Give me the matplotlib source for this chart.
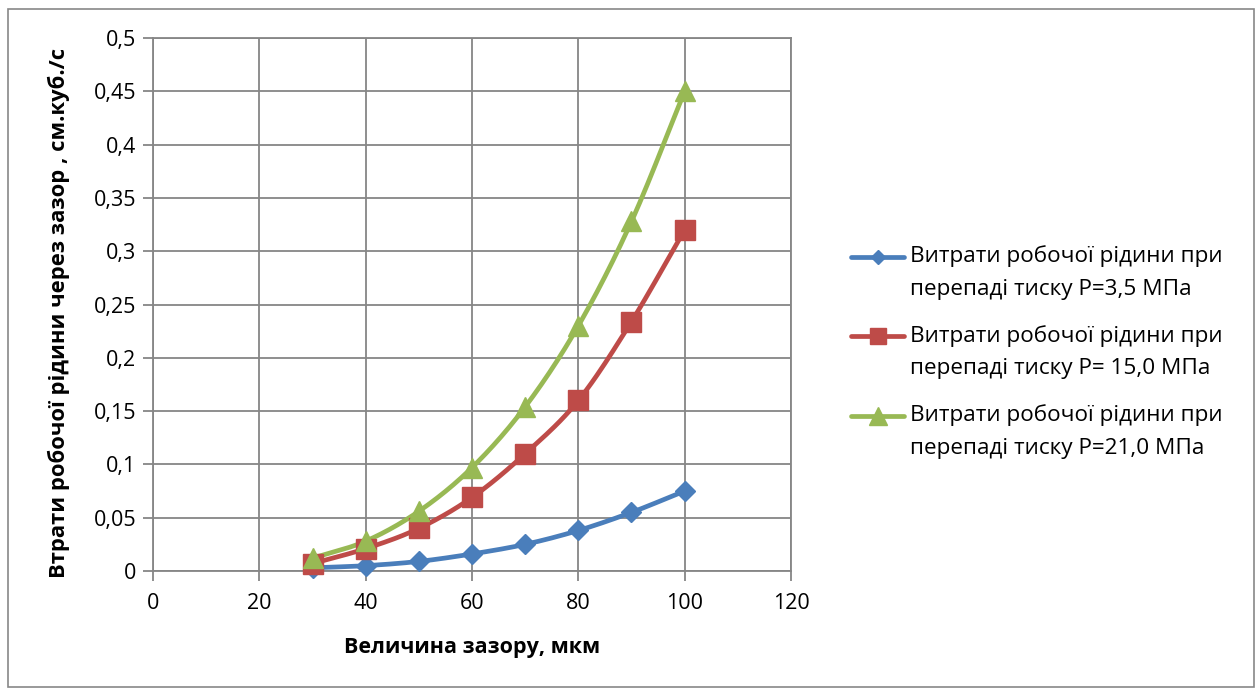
import numpy as np
import matplotlib
matplotlib.use("Agg")
import matplotlib.pyplot as plt
from matplotlib.patches import Rectangle
from matplotlib.lines import Line2D
from matplotlib.ticker import FuncFormatter

plt.rcParams['font.family'] = ['Open Sans', 'DejaVu Sans']

gap_um = [30, 40, 50, 60, 70, 80, 90, 100]
flow_p35 = [0.003, 0.005, 0.009, 0.016, 0.025, 0.038, 0.055, 0.075]
flow_p150 = [0.007, 0.021, 0.040, 0.069, 0.110, 0.160, 0.234, 0.320]
flow_p210 = [0.012, 0.028, 0.056, 0.097, 0.154, 0.230, 0.328, 0.450]

series_labels = [
    "Витрати робочої рідини при\nперепаді тиску Р=3,5 МПа",
    "Витрати робочої рідини при\nперепаді тиску Р= 15,0 МПа",
    "Витрати робочої рідини при\nперепаді тиску Р=21,0 МПа",
]
x_ticks = [0, 20, 40, 60, 80, 100, 120]
y_ticks = [0, 0.05, 0.1, 0.15, 0.2, 0.25, 0.3, 0.35, 0.4, 0.45, 0.5]
x_title = "Величина зазору, мкм"
y_title = "Втрати робочої рідини через зазор , см.куб./с"

colors = ["#4A7EBB", "#BE4B48", "#98B954"]
markers = ["D", "s", "^"]
msizes = [10.5, 14, 14.5]
legend_msizes = [7, 12, 13]


def smooth(x, y, n=20):
    """Catmull-Rom spline through the points (Excel-style smoothed line)."""
    x = np.asarray(x, float)
    y = np.asarray(y, float)
    px = np.concatenate([[2 * x[0] - x[1]], x, [2 * x[-1] - x[-2]]])
    py = np.concatenate([[2 * y[0] - y[1]], y, [2 * y[-1] - y[-2]]])
    xs, ys = [], []
    t = np.linspace(0, 1, n, endpoint=False)
    for i in range(1, len(px) - 2):
        for arr, out in ((px, xs), (py, ys)):
            p0, p1, p2, p3 = arr[i - 1], arr[i], arr[i + 1], arr[i + 2]
            out.extend(0.5 * ((2 * p1) + (-p0 + p2) * t
                              + (2 * p0 - 5 * p1 + 4 * p2 - p3) * t ** 2
                              + (-p0 + 3 * p1 - 3 * p2 + p3) * t ** 3))
    xs.append(x[-1])
    ys.append(y[-1])
    return np.array(xs), np.array(ys)


W, H = 1258, 688
fig = plt.figure(figsize=(W / 100, H / 100), dpi=100)
fig.patch.set_facecolor("white")


def fx(px):
    return px / W


def fy(py):
    return 1 - py / H


# outer chart border
fig.add_artist(Rectangle((fx(8), fy(687)), fx(1254 - 8), (687 - 9) / H,
                         transform=fig.transFigure, fill=False,
                         edgecolor="#878787", linewidth=1.2))

ax = fig.add_axes([fx(153), fy(571), fx(791 - 153), (571 - 38) / H])
ax.set_xlim(0, 120)
ax.set_ylim(0, 0.5)
ax.set_xticks(x_ticks)
ax.set_yticks(y_ticks)
ax.yaxis.set_major_formatter(FuncFormatter(lambda v, p: f"{v:g}".replace(".", ",")))
ax.grid(True, color="#868686", linewidth=1.3)
ax.set_axisbelow(True)
for s in ax.spines.values():
    s.set_color("#868686")
    s.set_linewidth(1.3)
ax.tick_params(axis="both", colors="#868686", length=7, width=1.3,
               labelcolor="black", labelsize=15.5)
ax.tick_params(axis="y", pad=5)
ax.tick_params(axis="x", pad=9)

for ys, c, m, ms in zip([flow_p35, flow_p150, flow_p210], colors, markers, msizes):
    sx, sy = smooth(gap_um, ys)
    ax.plot(sx, sy, color=c, linewidth=3.4, solid_capstyle="round", zorder=3)
    ax.plot(gap_um, ys, linestyle="none", marker=m, markersize=ms, color=c,
            markeredgecolor=c, zorder=4, clip_on=False)

ax.set_xlabel(x_title, fontsize=15.5, fontweight="bold")
ax.set_ylabel(y_title, fontsize=15.8, fontweight="bold")
ax.xaxis.set_label_coords(0.5, -0.124)
ax.yaxis.set_label_coords(-0.13, 0.484)

# legend: handle sits on the first line of each two-line entry
for i, (c, m, ms, lab) in enumerate(zip(colors, markers, legend_msizes, series_labels)):
    y0 = 256.5 + 79.5 * i
    fig.add_artist(Line2D([fx(851), fx(904)], [fy(y0), fy(y0)],
                          transform=fig.transFigure, color=c, linewidth=3.4,
                          solid_capstyle="round"))
    fig.add_artist(Line2D([fx(877.5)], [fy(y0)], transform=fig.transFigure,
                          color=c, marker=m, markersize=ms, markeredgecolor=c,
                          linestyle="none"))
    for j, line in enumerate(lab.split("\n")):
        fig.text(fx(910), fy(y0 + 33 * j), line, fontsize=16.2,
                 ha="left", va="center")

fig.savefig("out.png", dpi=100, facecolor="white")
